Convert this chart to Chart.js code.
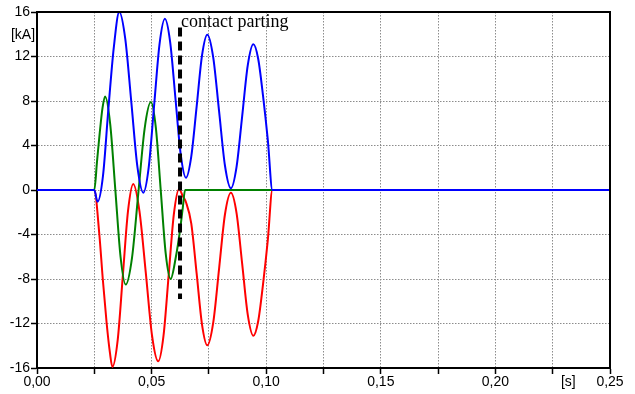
<!DOCTYPE html>
<html>
<head>
<meta charset="utf-8">
<script src="https://cdn.jsdelivr.net/npm/chart.js@4/dist/chart.umd.min.js"></script>
<style>
html,body{margin:0;padding:0;background:#fff;}
#wrap{width:635px;height:394px;position:relative;}
</style>
</head>
<body>
<div id="wrap"><canvas id="c" width="635" height="394"></canvas></div>
<script>
// time in ms, current in kA
const blueT = [0, 25.0, 26.4, 28.8, 31.15, 33.5, 35.9, 38.5, 41.15, 43.8, 46.4, 48.75, 51.1, 53.45, 55.8, 58.1, 60.4, 62.7, 65.0, 67.3, 69.65, 72.0, 74.3, 76.9, 79.45, 82.0, 84.6, 87.05, 89.5, 91.95, 94.4, 96.5, 98.6, 100.7, 102.7, 250];
const blueV = [0, 0, -1.05, 1.3, 7.3, 12.8, 16.0, 13.6, 7.9, 2.1, -0.24, 2.05, 7.6, 13.1, 15.4, 13.3, 8.25, 3.2, 1.1, 3.0, 7.5, 12.1, 13.96, 11.9, 7.06, 2.2, 0.15, 2.05, 6.6, 11.2, 13.1, 11.8, 8.5, 4.5, 0, 0];
const greenT = [0, 25.0, 26.2, 27.4, 28.6, 29.7, 31.95, 34.2, 36.45, 38.7, 41.45, 44.2, 46.95, 49.7, 51.85, 54.0, 56.15, 58.3, 60.6, 62.4, 63.6, 64.6, 250];
const greenV = [0, 0, 2.6, 5.2, 7.4, 8.4, 5.9, -0.05, -6.0, -8.5, -6.1, -0.3, 5.5, 7.9, 5.6, -0.05, -5.7, -8.0, -6.0, -3.6, -1.6, 0, 0];
const redT = [0, 25.0, 27.2, 28.7, 30.4, 31.8, 32.9, 35.2, 37.45, 39.7, 42.0, 44.7, 47.45, 50.2, 52.9, 55.2, 57.45, 59.7, 62.0, 63.5, 65.0, 67.3, 69.65, 72.0, 74.3, 76.9, 79.45, 82.0, 84.6, 87.05, 89.5, 91.95, 94.4, 96.5, 98.6, 100.7, 102.7, 250];
const redV = [0, 0, -4.0, -8.0, -12.0, -14.6, -15.9, -13.5, -7.7, -1.9, 0.55, -1.9, -7.4, -13.1, -15.4, -13.1, -7.65, -2.2, 0.1, -0.5, -1.1, -3.0, -7.5, -12.1, -13.96, -11.9, -7.06, -2.2, -0.24, -2.05, -6.6, -11.2, -13.1, -11.8, -8.5, -4.5, 0, 0];
const partingT = [62.4, 62.4];
const partingV = [14.6, -9.8];
const partingLabel = 'contact parting';
const yTicks = [-16, -12, -8, -4, 0, 4, 8, 12, 16];
const xLabels = ['0,00', '0,05', '0,10', '0,15', '0,20', '0,25'];
const yUnit = '[kA]';
const xUnit = '[s]';

const pts = (T, V) => T.map((t, i) => ({x: t / 1000, y: V[i]}));

const frame = {
  id: 'frame',
  afterDraw(chart) {
    const {ctx, chartArea: a, scales} = chart;
    ctx.save();
    ctx.strokeStyle = '#000';
    ctx.lineWidth = 2;
    ctx.beginPath();
    ctx.moveTo(a.left, a.top); ctx.lineTo(a.right, a.top); ctx.lineTo(a.right, a.bottom);
    ctx.stroke();
    ctx.fillStyle = '#000';
    ctx.font = '14px "Liberation Sans", Arial, sans-serif';
    ctx.textAlign = 'center';
    ctx.textBaseline = 'middle';
    ctx.fillText(yUnit, 23, scales.y.getPixelForValue(13.9));
    ctx.fillText(xUnit, scales.x.getPixelForValue(0.2318), a.bottom + 14);
    ctx.font = '18px "Liberation Serif", "Times New Roman", serif';
    ctx.textAlign = 'left';
    ctx.textBaseline = 'alphabetic';
    ctx.fillText(partingLabel, scales.x.getPixelForValue(partingT[0] / 1000) + 1, 27);
    ctx.restore();
  }
};

new Chart(document.getElementById('c'), {
  type: 'line',
  data: {
    datasets: [
      {data: pts(redT, redV), borderColor: '#ff0000', borderWidth: 2, pointRadius: 0, cubicInterpolationMode: 'monotone', order: 3},
      {data: pts(greenT, greenV), borderColor: '#008000', borderWidth: 2, pointRadius: 0, cubicInterpolationMode: 'monotone', order: 2},
      {data: pts(blueT, blueV), borderColor: '#0000ff', borderWidth: 2, pointRadius: 0, cubicInterpolationMode: 'monotone', order: 1},
      {data: pts(partingT, partingV), borderColor: '#000', borderWidth: 4, borderDash: [9, 5], pointRadius: 0, order: 0}
    ]
  },
  options: {
    responsive: false,
    animation: false,
    events: [],
    layout: {padding: {left: 0, right: 25, top: 12, bottom: 0}},
    plugins: {legend: {display: false}, tooltip: {enabled: false}},
    scales: {
      x: {
        type: 'linear', min: 0, max: 0.25,
        afterFit(s) { s.height = 26; },
        afterBuildTicks(s) { s.ticks = []; for (let i = 0; i <= 10; i++) s.ticks.push({value: i * 0.025}); },
        ticks: {
          autoSkip: false, maxRotation: 0, color: '#000', padding: 0,
          font: {family: '"Liberation Sans", Arial, sans-serif', size: 14},
          callback(v) { const k = Math.round(v * 1000); return k % 50 === 0 ? xLabels[k / 50] : ''; }
        },
        grid: {color: '#8c8c8c', lineWidth: 1, tickLength: 6, tickColor: '#000', tickWidth: 1.5, tickBorderDash: []},
        border: {display: true, color: '#000', width: 2, dash: [1.5, 1.5]}
      },
      y: {
        type: 'linear', min: -16, max: 16,
        afterFit(s) { s.width = 37; },
        afterBuildTicks(s) { s.ticks = yTicks.map(v => ({value: v})); },
        ticks: {
          color: '#000', padding: 1,
          font: {family: '"Liberation Sans", Arial, sans-serif', size: 14},
          callback(v) { return String(v); }
        },
        grid: {color: '#8c8c8c', lineWidth: 1, tickLength: 6, tickColor: '#000', tickWidth: 1.5, tickBorderDash: []},
        border: {display: true, color: '#000', width: 2, dash: [1.5, 1.5]}
      }
    }
  },
  plugins: [frame]
});
</script>
</body>
</html>
